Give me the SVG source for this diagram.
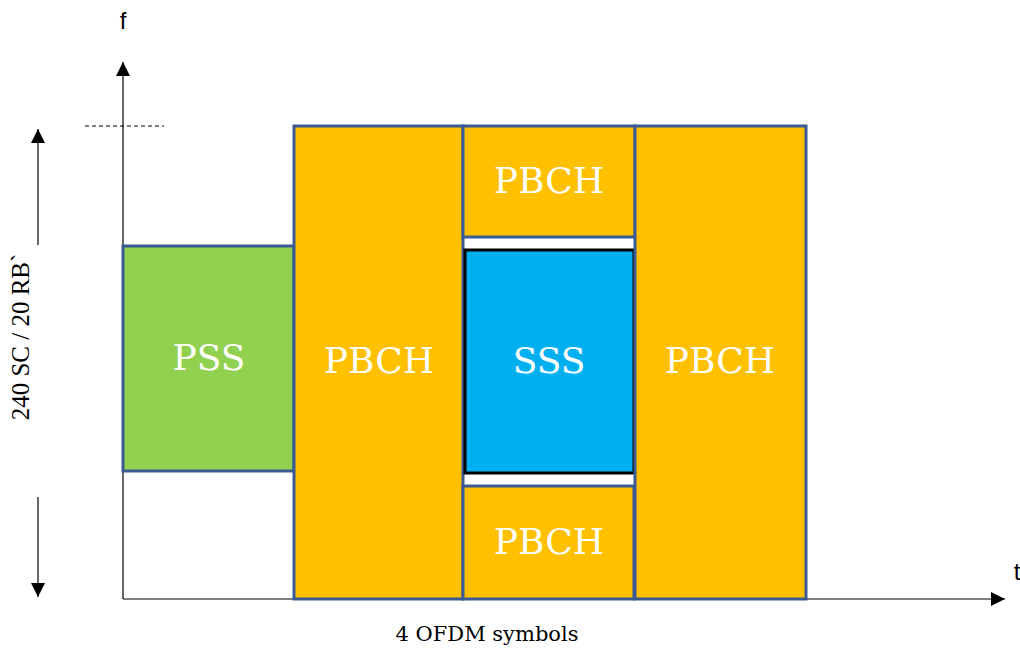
<svg xmlns="http://www.w3.org/2000/svg" width="1020" height="650" viewBox="0 0 1020 650">
<style>
.blk{stroke:#3A5A93;stroke-width:3}
.pb{fill:#FFC000}
.lbl{font-family:"DejaVu Serif","Liberation Serif",serif;font-size:36px;fill:#FFFFFF;text-anchor:middle}
.ax{stroke:#000;stroke-width:1.2;fill:none}
.sans{font-family:"Liberation Sans",Arial,sans-serif;font-size:24px;fill:#000}
.ser{font-family:"Liberation Serif","DejaVu Serif",serif;font-size:25px;fill:#000}
</style>
<defs>
<marker id="ah" viewBox="0 0 10 10" refX="10" refY="5" markerWidth="14" markerHeight="14" markerUnits="userSpaceOnUse" orient="auto">
<path d="M0,0 L10,5 L0,10 z" fill="#000"/>
</marker>
</defs>
<g id="connectors">
<line class="ax" x1="123" y1="599" x2="123" y2="62" marker-end="url(#ah)"/>
<line class="ax" x1="123" y1="599" x2="1005" y2="599" marker-end="url(#ah)"/>
<line x1="85" y1="126" x2="164" y2="126" stroke="#000" stroke-width="1" stroke-dasharray="4,3"/>
<line class="ax" x1="38" y1="245" x2="38" y2="129" marker-end="url(#ah)"/>
<line class="ax" x1="38" y1="497" x2="38" y2="597" marker-end="url(#ah)"/>
</g>
<text class="sans" x="123" y="29" text-anchor="middle">f</text>
<text class="sans" x="1017" y="580" text-anchor="middle">t</text>
<text class="ser" transform="translate(29,337) rotate(-90)" text-anchor="middle">240 SC / 20 RB`</text>
<text x="487" y="641" text-anchor="middle" style="font-family:'DejaVu Serif','Liberation Serif',serif;font-size:21px;fill:#000">4 OFDM symbols</text>
<g id="pss">
<rect class="blk" x="123" y="246" width="171" height="225" fill="#92D050"/>
<text class="lbl" x="209" y="370">PSS</text>
</g>
<g id="pbch1">
<rect class="blk pb" x="294" y="126" width="169" height="473"/>
<text class="lbl" x="379" y="373">PBCH</text>
</g>
<g id="pbch-top">
<rect class="blk pb" x="463" y="126" width="172" height="111"/>
<text class="lbl" x="549" y="193">PBCH</text>
</g>
<g id="sss">
<rect x="465" y="250" width="169" height="223" fill="#00B0F0" stroke="#000" stroke-width="3"/>
<text class="lbl" x="549" y="373">SSS</text>
</g>
<g id="pbch-bottom">
<rect class="blk pb" x="463" y="486" width="171" height="113"/>
<text class="lbl" x="549" y="554">PBCH</text>
</g>
<g id="pbch2">
<rect class="blk pb" x="635" y="126" width="171" height="473"/>
<text class="lbl" x="720" y="373">PBCH</text>
</g>
</svg>
